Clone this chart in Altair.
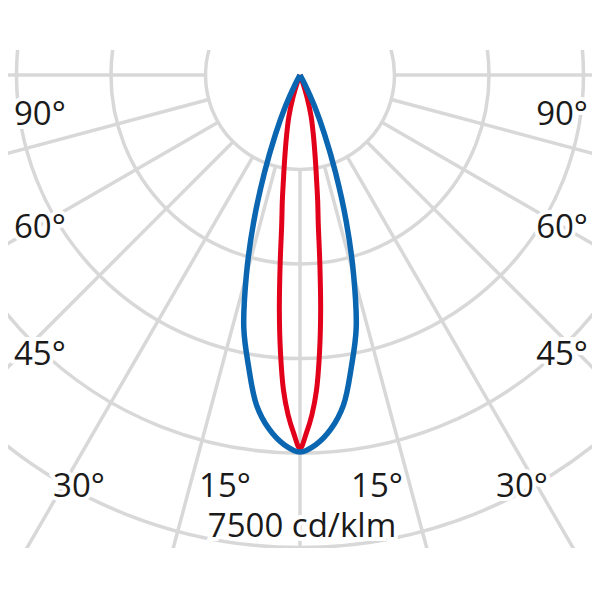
import altair as alt
import pandas as pd

# ---------------- data (cd/klm, angle in degrees from nadir) ----------------
BLUE_ANGLES = [0, 2.5, 5, 7.5, 10, 12.5, 15, 17.5, 20, 22.5, 25, 27.5, 30]
BLUE_VALUES = [5985, 5870, 5640, 5285, 4700, 4120, 3290, 2445, 1650, 1015, 540, 160, 0]

RED_ANGLES = [0, 1, 2, 3, 4, 5, 6, 7, 8, 9, 10, 12.5, 15, 17.5, 20, 22.5]
RED_VALUES = [5930, 5690, 5400, 5010, 4430, 3760, 3015, 2380, 2015, 1680, 1430, 985, 680, 380, 125, 0]

RINGS = [1500, 3000, 4500, 6000, 7500, 9000]
SPOKES = [-90, -75, -60, -45, -30, -15, 0, 15, 30, 45, 60, 75, 90]

LABEL_TEXT = ["90°", "90°", "60°", "60°", "45°", "45°", "30°", "30°", "15°", "15°", "7500 cd/klm"]

# ---------------- layout ----------------
LABEL_X = [6, 580, 6, 580, 6, 580, 71, 514, 217, 369, 294]
LABEL_Y = [75, 75, 188, 188, 315, 315, 447, 447, 447, 447, 487]
LABEL_ALIGN = ["left", "right", "left", "right", "left", "right",
               "center", "center", "center", "center", "center"]

PX_PER_UNIT = 94.5 / 1500.0
W, H = 584, 498
CX, CY = 292, 25
x_dom = [-CX / PX_PER_UNIT, (W - CX) / PX_PER_UNIT]
y_dom = [-CY / PX_PER_UNIT, (H - CY) / PX_PER_UNIT]
xs = alt.Scale(domain=x_dom, nice=False, zero=False)
ys = alt.Scale(domain=y_dom, nice=False, zero=False, reverse=True)

GRID = "#d8d8d8"
GRID_W = 3.5
BLUE = "#0a66b0"
RED = "#e2001a"


def curve_df(angles, values):
    rows = []
    for a, v in zip(angles, values):
        rows.append({"a": a, "I": v})
        if a != 0:
            rows.append({"a": -a, "I": v})
    return pd.DataFrame(rows).sort_values("a")


def curve(df, color, width):
    return alt.Chart(df).mark_line(
        color=color, strokeWidth=width, interpolate="catmull-rom", clip=True,
        strokeJoin="round"
    ).transform_calculate(
        px="datum.I * sin(datum.a * PI / 180)",
        py="datum.I * cos(datum.a * PI / 180)",
    ).encode(
        x=alt.X("px:Q", scale=xs, axis=None),
        y=alt.Y("py:Q", scale=ys, axis=None),
        order=alt.Order("a:Q"),
    )


rings = alt.Chart(pd.DataFrame({"r": RINGS})).mark_point(
    shape="circle", filled=False, stroke=GRID, strokeWidth=GRID_W, opacity=1, clip=True
).transform_calculate(
    cx="0", cy="0", sz=f"pow(2 * datum.r * {PX_PER_UNIT}, 2)"
).encode(
    x=alt.X("cx:Q", scale=xs, axis=None),
    y=alt.Y("cy:Q", scale=ys, axis=None),
    size=alt.Size("sz:Q", scale=None, legend=None),
)

spokes = alt.Chart(pd.DataFrame({"a": SPOKES})).mark_rule(
    color=GRID, strokeWidth=GRID_W, clip=True
).transform_calculate(
    x1=f"{RINGS[0]} * sin(datum.a * PI / 180)",
    y1=f"{RINGS[0]} * cos(datum.a * PI / 180)",
    x2=f"20000 * sin(datum.a * PI / 180)",
    y2=f"20000 * cos(datum.a * PI / 180)",
).encode(
    x=alt.X("x1:Q", scale=xs, axis=None),
    y=alt.Y("y1:Q", scale=ys, axis=None),
    x2="x2:Q",
    y2="y2:Q",
)

lab_df = pd.DataFrame({"t": LABEL_TEXT, "lx": LABEL_X, "ly": LABEL_Y, "al": LABEL_ALIGN})


def label_layers(align):
    base = alt.Chart(lab_df).transform_filter(f"datum.al == '{align}'").encode(
        x=alt.X("lx:Q", scale=None, axis=None),
        y=alt.Y("ly:Q", scale=None, axis=None),
        text="t:N",
    )
    halo = base.mark_text(align=align, baseline="alphabetic", font="Open Sans",
                          fontSize=33, fill="white", stroke="white", strokeWidth=8)
    txt = base.mark_text(align=align, baseline="alphabetic", font="Open Sans",
                         fontSize=33, color="#1a1a1a")
    return halo, txt


layers = [rings, spokes]
halos, texts = [], []
for al in ["left", "right", "center"]:
    h, t = label_layers(al)
    halos.append(h)
    texts.append(t)
layers += halos + texts
layers += [curve(curve_df(RED_ANGLES, RED_VALUES), RED, 5),
           curve(curve_df(BLUE_ANGLES, BLUE_VALUES), BLUE, 5.5)]

chart = alt.layer(*layers).properties(
    width=W, height=H,
    padding={"left": 0, "right": 0, "top": 42, "bottom": 0},
    autosize="none",
).configure_view(stroke=None)

chart.save("out.html", embed_options={"renderer": "svg", "actions": False})
